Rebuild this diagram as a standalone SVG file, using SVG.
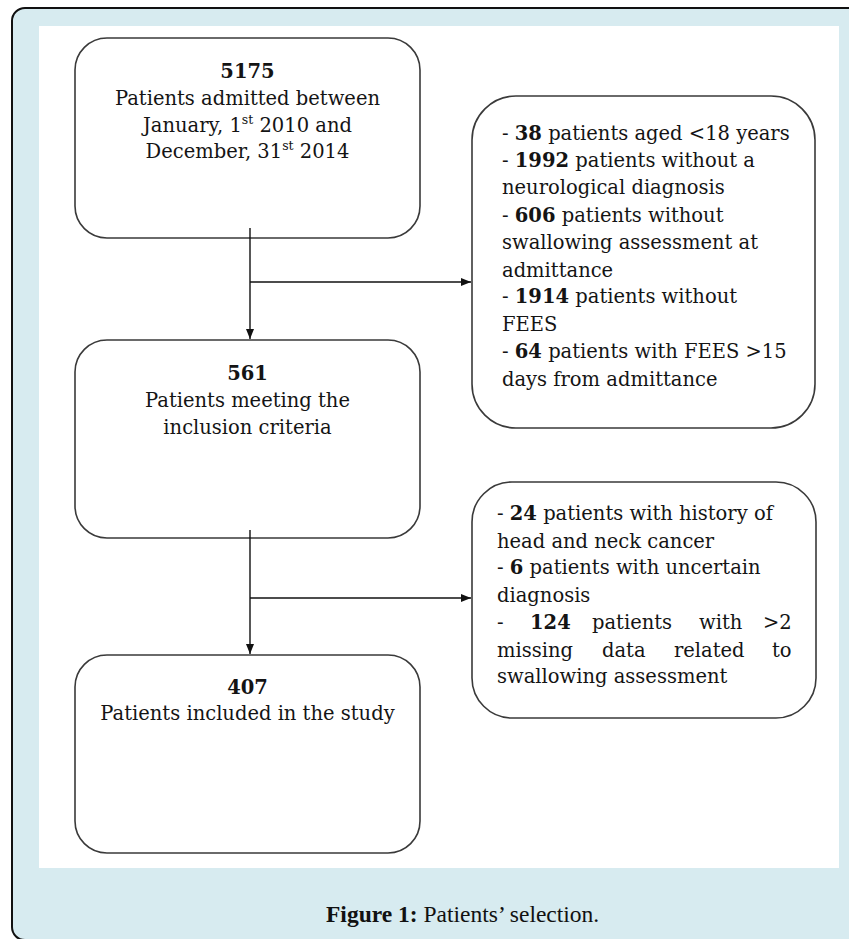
<svg xmlns="http://www.w3.org/2000/svg" width="849" height="939" viewBox="0 0 849 939">
<style>
.box{fill:#fff;stroke:#3a3a3a;stroke-width:1.6}
.t{font-family:"DejaVu Serif","Liberation Serif",serif;font-size:19.5px;fill:#141414}
.c{text-anchor:middle}
.b{font-weight:bold}
.sup{font-size:12.5px}
.conn{stroke:#111;stroke-width:1.4;fill:none}
.cap{font-family:"Liberation Serif",serif;font-size:23.5px;fill:#111}
</style>
<defs>
<marker id="ah" viewBox="0 0 10 8" refX="10" refY="4" markerWidth="10" markerHeight="8" markerUnits="userSpaceOnUse" orient="auto">
<path d="M0,0 L10,4 L0,8 Z" fill="#111"/>
</marker>
</defs>
<rect x="12" y="8" width="880" height="932" rx="13" fill="#d7ebf0" stroke="#111" stroke-width="2"/>
<rect x="39" y="26" width="800" height="842" fill="#fff"/>

<g id="n5175">
<rect class="box" x="75" y="38" width="345" height="200" rx="32"/>
<text class="t c b" x="247.5" y="78">5175</text>
<text class="t c" x="247.5" y="105">Patients admitted between</text>
<text class="t c" x="247.5" y="132">January, 1<tspan class="sup" dy="-8">st</tspan><tspan dy="8"> 2010 and</tspan></text>
<text class="t c" x="247.5" y="158">December, 31<tspan class="sup" dy="-8">st</tspan><tspan dy="8"> 2014</tspan></text>
</g>

<g id="excl1">
<rect class="box" x="472" y="96" width="343" height="332" rx="44"/>
<text class="t" x="502" y="140">- <tspan class="b">38</tspan> patients aged &lt;18 years</text>
<text class="t" x="502" y="167">- <tspan class="b">1992</tspan> patients without a</text>
<text class="t" x="502" y="194">neurological diagnosis</text>
<text class="t" x="502" y="222">- <tspan class="b">606</tspan> patients without</text>
<text class="t" x="502" y="249">swallowing assessment at</text>
<text class="t" x="502" y="277">admittance</text>
<text class="t" x="502" y="303">- <tspan class="b">1914</tspan> patients without</text>
<text class="t" x="502" y="331">FEES</text>
<text class="t" x="502" y="358">- <tspan class="b">64</tspan> patients with FEES &gt;15</text>
<text class="t" x="502" y="386">days from admittance</text>
</g>

<g id="n561">
<rect class="box" x="75" y="340" width="345" height="198" rx="32"/>
<text class="t c b" x="247.5" y="380">561</text>
<text class="t c" x="247.5" y="407">Patients meeting the</text>
<text class="t c" x="247.5" y="434">inclusion criteria</text>
</g>

<g id="excl2">
<rect class="box" x="472" y="482" width="344" height="236" rx="40"/>
<text class="t" x="497" y="520">- <tspan class="b">24</tspan> patients with history of</text>
<text class="t" x="497" y="548">head and neck cancer</text>
<text class="t" x="497" y="574">- <tspan class="b">6</tspan> patients with uncertain</text>
<text class="t" x="497" y="602">diagnosis</text>
<text class="t" y="629"><tspan x="497">-</tspan><tspan class="b" x="530">124</tspan><tspan x="592">patients</tspan><tspan x="699">with</tspan><tspan x="763">&gt;2</tspan></text>
<text class="t" y="657"><tspan x="497">missing</tspan><tspan x="602">data</tspan><tspan x="674">related</tspan><tspan x="772">to</tspan></text>
<text class="t" x="497" y="683">swallowing assessment</text>
</g>

<g id="n407">
<rect class="box" x="75" y="655" width="345" height="198" rx="32"/>
<text class="t c b" x="247.5" y="694">407</text>
<text class="t c" x="247.5" y="720">Patients included in the study</text>
</g>

<g id="connectors">
<path class="conn" d="M250,228 V339" marker-end="url(#ah)"/>
<path class="conn" d="M250,282 H471" marker-end="url(#ah)"/>
<path class="conn" d="M250,530 V654" marker-end="url(#ah)"/>
<path class="conn" d="M250,598 H471" marker-end="url(#ah)"/>
</g>

<text class="cap" x="326" y="922"><tspan font-weight="bold">Figure 1:</tspan> Patients’ selection.</text>
</svg>
